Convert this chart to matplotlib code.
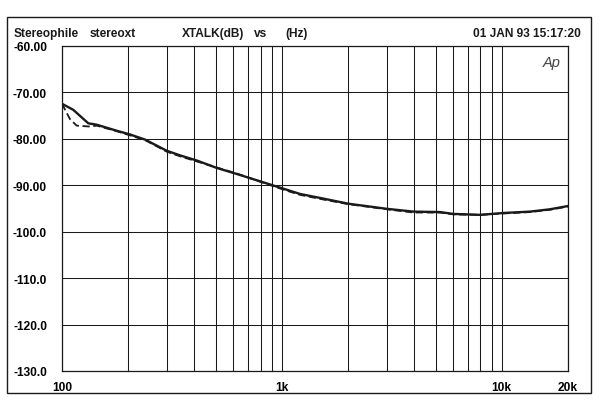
import matplotlib
matplotlib.use("Agg")
import matplotlib.pyplot as plt
from matplotlib.patches import Rectangle

# crosstalk curves (Hz, dB)
freq_solid = [100, 112.5, 131.7, 143.8, 177.4, 203.8, 238.5, 299.4, 344.1, 409.9,
              505.3, 623, 823, 1052, 1209, 1543, 2005, 2998, 3960, 5237,
              6021, 7963, 10160, 13445, 16574, 20000]
xtalk_solid = [-72.5, -73.8, -76.7, -77.0, -78.3, -79.1, -80.2, -82.6, -83.6, -84.7,
               -86.3, -87.6, -89.4, -91.0, -91.9, -92.9, -94.0, -95.1, -95.7, -95.8,
               -96.2, -96.4, -96.0, -95.7, -95.2, -94.5]

freq_dashed = [100, 108.7, 116.6, 134, 143.8, 177.4, 203.8, 238.5, 299.4, 344.1,
               409.9, 505.3, 623, 823, 1052, 1209, 1543, 2005, 2998, 3960,
               5237, 6021, 7963, 10160, 13445, 16574, 20000]
xtalk_dashed = [-72.5, -75.8, -77.2, -77.4, -77.2, -78.4, -79.3, -80.3, -82.8, -83.8,
                -84.9, -86.2, -87.5, -89.5, -91.2, -92.1, -93.1, -94.1, -95.2, -95.9,
                -95.9, -96.3, -96.4, -96.1, -95.8, -95.3, -94.6]

y_ticks = [-60, -70, -80, -90, -100, -110, -120, -130]
y_labels = ["-60.00", "-70.00", "-80.00", "-90.00", "-100.0", "-110.0", "-120.0", "-130.0"]
x_grid = [100, 200, 300, 400, 500, 600, 700, 800, 900, 1000, 2000, 3000, 4000, 5000,
          6000, 7000, 8000, 9000, 10000, 20000]
x_ticks = [100, 1000, 10000, 20000]
x_labels = ["100", "1k", "10k", "20k"]

plt.rcParams["font.family"] = ["Liberation Sans", "DejaVu Sans"]
ink = "#1a1a1a"

fig = plt.figure(figsize=(6.0, 4.06), dpi=100)
ax = fig.add_axes([62 / 600, 1 - 372 / 406, 506 / 600, 325.3 / 406])

ax.set_xscale("log")
ax.set_xlim(100, 20000)
ax.set_ylim(-130, -60)

for f in x_grid:
    ax.axvline(f, color=ink, lw=0.75, zorder=1)
for v in y_ticks:
    ax.axhline(v, color=ink, lw=0.75, zorder=1)

ax.plot(freq_dashed, xtalk_dashed, color=ink, lw=1.3, ls=(0, (4, 2)), zorder=3)
ax.plot(freq_solid, xtalk_solid, color=ink, lw=1.7, zorder=4)

ax.set_yticks(y_ticks)
ax.set_yticklabels(y_labels, fontsize=8.6, fontweight="bold")
ax.set_xticks(x_ticks)
ax.set_xticklabels(x_labels, fontsize=8.6, fontweight="bold")
ax.minorticks_off()
ax.tick_params(axis="y", length=0, pad=10.8)
ax.tick_params(axis="x", length=0, pad=7.5)
for s in ax.spines.values():
    s.set_color(ink)
    s.set_linewidth(0.9)

ax.text(0.985, 0.97, "Ap", transform=ax.transAxes, ha="right", va="top",
        fontsize=10.5, fontstyle="italic", color="#444444")

# header line
hy = 1 - 34 / 406
hdr = dict(fontsize=8.6, fontweight="bold", va="center", color=ink)
fig.text(14 / 600, hy, "Stereophile", ha="left", **hdr)
fig.text(90 / 600, hy, "stereoxt", ha="left", **hdr)
fig.text(182 / 600, hy, "XTALK(dB)", ha="left", **hdr)
fig.text(254 / 600, hy, "vs", ha="left", **hdr)
fig.text(285 / 600, hy, "(Hz)", ha="left", **hdr)
fig.text(581 / 600, hy, "01 JAN 93 15:17:20", ha="right", **hdr)

# outer frame
fig.patches.append(Rectangle((7 / 600, 1 - 394 / 406), 584 / 600, 376 / 406,
                             transform=fig.transFigure, fill=False,
                             edgecolor=ink, lw=1.0))

fig.savefig("out.png", dpi=100)
